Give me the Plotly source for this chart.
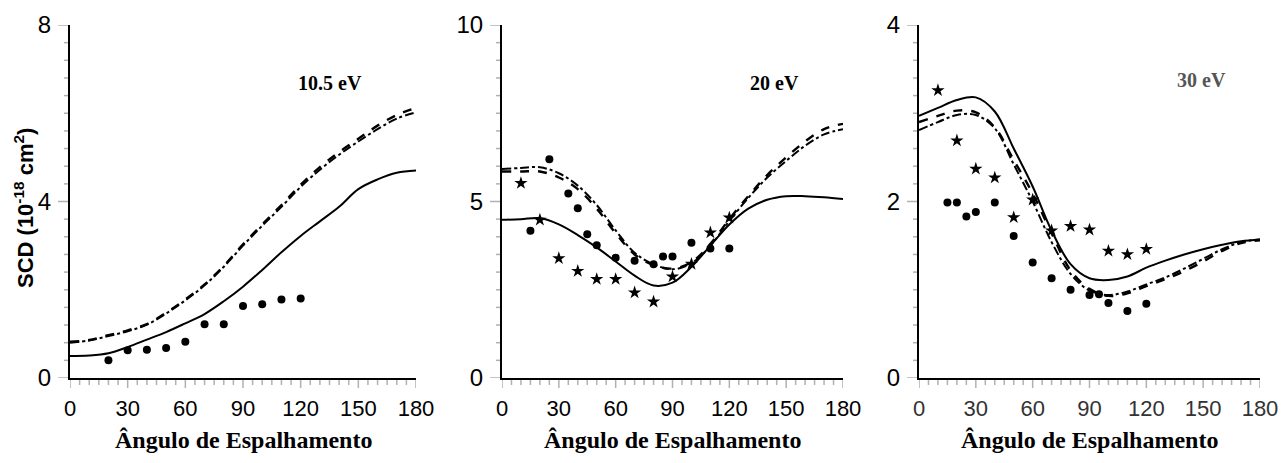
import plotly.graph_objects as go

# ---------------- data ----------------
angles_curve = [0, 10, 20, 30, 40, 50, 60, 70, 80, 90, 100, 110, 120, 130, 140, 150, 160, 170, 180]

# 10.5 eV
p1_solid = [0.50, 0.51, 0.56, 0.70, 0.87, 1.04, 1.24, 1.45, 1.74, 2.07, 2.45, 2.85, 3.22, 3.55, 3.88, 4.28, 4.50, 4.65, 4.70]
p1_dash = [0.82, 0.86, 0.97, 1.08, 1.22, 1.48, 1.78, 2.12, 2.54, 3.03, 3.48, 3.92, 4.38, 4.78, 5.12, 5.42, 5.72, 5.96, 6.12]
p1_dashdot = [0.80, 0.85, 0.95, 1.06, 1.21, 1.46, 1.76, 2.10, 2.52, 3.00, 3.45, 3.88, 4.33, 4.72, 5.06, 5.36, 5.64, 5.88, 6.02]
p1_circ_x = [20, 30, 40, 50, 60, 70, 80, 90, 100, 110, 120]
p1_circ_y = [0.40, 0.63, 0.64, 0.68, 0.82, 1.22, 1.22, 1.63, 1.67, 1.78, 1.80]

# 20 eV
p2_solid = [4.48, 4.50, 4.53, 4.35, 4.05, 3.70, 3.30, 2.90, 2.62, 2.70, 3.15, 3.75, 4.35, 4.80, 5.05, 5.15, 5.15, 5.12, 5.07]
p2_dash = [5.85, 5.85, 5.85, 5.68, 5.35, 4.80, 4.10, 3.50, 3.20, 3.10, 3.28, 3.80, 4.50, 5.15, 5.75, 6.25, 6.70, 7.05, 7.20]
p2_dashdot = [5.92, 5.95, 5.97, 5.80, 5.45, 4.90, 4.18, 3.55, 3.22, 3.08, 3.25, 3.75, 4.45, 5.10, 5.68, 6.15, 6.58, 6.90, 7.05]
p2_circ_x = [15, 25, 35, 40, 45, 50, 60, 70, 80, 85, 90, 100, 110, 120]
p2_circ_y = [4.17, 6.20, 5.23, 4.81, 4.07, 3.76, 3.41, 3.32, 3.22, 3.44, 3.44, 3.83, 3.67, 3.67]
p2_star_x = [10, 20, 30, 40, 50, 60, 70, 80, 90, 100, 110, 120]
p2_star_y = [5.52, 4.48, 3.39, 3.03, 2.80, 2.80, 2.42, 2.16, 2.87, 3.23, 4.12, 4.54]

# 30 eV
p3_solid = [2.97, 3.06, 3.15, 3.18, 3.02, 2.60, 2.17, 1.67, 1.29, 1.13, 1.11, 1.15, 1.25, 1.33, 1.40, 1.46, 1.51, 1.55, 1.57]
p3_dash = [2.90, 2.97, 3.03, 3.01, 2.84, 2.47, 2.09, 1.64, 1.22, 1.01, 0.93, 0.96, 1.04, 1.12, 1.21, 1.32, 1.44, 1.53, 1.56]
p3_dashdot = [2.81, 2.90, 2.98, 2.98, 2.83, 2.42, 2.00, 1.54, 1.18, 0.99, 0.94, 0.98, 1.06, 1.14, 1.24, 1.35, 1.46, 1.54, 1.57]
p3_circ_x = [15, 20, 25, 30, 40, 50, 60, 70, 80, 90, 95, 100, 110, 120]
p3_circ_y = [1.99, 1.99, 1.83, 1.88, 1.99, 1.61, 1.31, 1.13, 1.00, 0.94, 0.95, 0.85, 0.76, 0.84]
p3_star_x = [10, 20, 30, 40, 50, 60, 70, 80, 90, 100, 110, 120]
p3_star_y = [3.26, 2.69, 2.37, 2.27, 1.82, 2.02, 1.67, 1.72, 1.68, 1.44, 1.40, 1.46]

energy_labels = ["10.5 eV", "20 eV", "30 eV"]
y_ranges = [8, 10, 4]
y_major = [4, 5, 2]
x_title = "Ângulo de Espalhamento"
y_title = "SCD (10<sup>-18</sup> cm<sup>2</sup>)"

# ---------------- figure ----------------
W, H = 1286, 463
OFF = 8  # page body margin
fig = go.Figure()

x_px = [(70, 416), (502, 843), (919, 1260)]
x_domains = [((a - OFF) / W, (b - OFF) / W) for a, b in x_px]
y_domain = (1 - (378 - OFF) / H, 1 - (25 - OFF) / H)

panels = [
    (p1_solid, p1_dash, p1_dashdot, p1_circ_x, p1_circ_y, [], []),
    (p2_solid, p2_dash, p2_dashdot, p2_circ_x, p2_circ_y, p2_star_x, p2_star_y),
    (p3_solid, p3_dash, p3_dashdot, p3_circ_x, p3_circ_y, p3_star_x, p3_star_y),
]

for i, (sol, das, dd, cx, cy, sx, sy) in enumerate(panels):
    xa = "x" if i == 0 else f"x{i+1}"
    ya = "y" if i == 0 else f"y{i+1}"
    fig.add_trace(go.Scatter(x=angles_curve, y=sol, mode="lines", xaxis=xa, yaxis=ya,
                             line=dict(color="black", width=2, shape="spline"), showlegend=False))
    fig.add_trace(go.Scatter(x=angles_curve, y=das, mode="lines", xaxis=xa, yaxis=ya,
                             line=dict(color="black", width=2.4, dash="dash", shape="spline"), showlegend=False))
    fig.add_trace(go.Scatter(x=angles_curve, y=dd, mode="lines", xaxis=xa, yaxis=ya,
                             line=dict(color="black", width=2, dash="dashdot", shape="spline"), showlegend=False))
    fig.add_trace(go.Scatter(x=cx, y=cy, mode="markers", xaxis=xa, yaxis=ya,
                             marker=dict(symbol="circle", size=8, color="black"), showlegend=False))
    if sx:
        fig.add_trace(go.Scatter(x=sx, y=sy, mode="markers", xaxis=xa, yaxis=ya,
                                 marker=dict(symbol="star", size=10, color="black"), showlegend=False))

layout = dict(
    template="simple_white",
    width=W, height=H,
    margin=dict(l=0, r=0, t=0, b=0, autoexpand=False),
    showlegend=False,
)

INVISIBLE = "rgba(0,0,0,0)"
for i in range(3):
    xkey = "xaxis" if i == 0 else f"xaxis{i+1}"
    ykey = "yaxis" if i == 0 else f"yaxis{i+1}"
    ya = "y" if i == 0 else f"y{i+1}"
    xa = "x" if i == 0 else f"x{i+1}"
    layout[xkey] = dict(
        domain=list(x_domains[i]), anchor=ya, range=[0, 180], automargin=False,
        showline=True, linecolor="black", linewidth=2,
        showgrid=False, zeroline=False,
        tickmode="linear", dtick=30, tick0=0,
        ticks="outside", ticklen=10, tickcolor=INVISIBLE,
        tickfont=dict(family="Liberation Sans, Arial, sans-serif", size=22,
                      color="black" if i < 2 else "#333"),
    )
    layout[ykey] = dict(
        domain=list(y_domain), anchor=xa, range=[0, y_ranges[i]], automargin=False,
        showline=True, linecolor="black", linewidth=2,
        showgrid=False, zeroline=False,
        tickmode="linear", dtick=y_major[i], tick0=0,
        ticks="outside", ticklen=12, tickcolor=INVISIBLE,
        tickfont=dict(family="Liberation Sans, Arial, sans-serif", size=24, color="black"),
    )

# tick marks drawn as pixel-sized shapes anchored on the axes' own scales
shapes = []
for i in range(3):
    xa = "x" if i == 0 else f"x{i+1}"
    ya = "y" if i == 0 else f"y{i+1}"
    for deg in range(0, 181, 5):
        length = 10 if deg % 30 == 0 else 7
        shapes.append(dict(type="line", xref=xa, yref=f"{ya} domain",
                           x0=deg, x1=deg, ysizemode="pixel", yanchor=0, y0=0, y1=-length,
                           line=dict(color="black", width=1.5), layer="above"))
    step = y_ranges[i] / 20
    for k in range(21):
        length = 12 if k % 10 == 0 else 6
        shapes.append(dict(type="line", xref=f"{xa} domain", yref=ya,
                           xsizemode="pixel", xanchor=0, x0=0, x1=-length,
                           y0=k * step, y1=k * step,
                           line=dict(color="black", width=1.5), layer="above"))
layout["shapes"] = shapes

fig.update_layout(**layout)

# energy labels
label_pos = [(135, 6.69), (144, 8.36), (149, 3.38)]
label_colors = ["black", "black", "#555"]
for i, (lx, ly) in enumerate(label_pos):
    xa = "x" if i == 0 else f"x{i+1}"
    ya = "y" if i == 0 else f"y{i+1}"
    fig.add_annotation(x=lx, y=ly, xref=xa, yref=ya, text=f"<b>{energy_labels[i]}</b>",
                       showarrow=False, xanchor="center", yanchor="middle",
                       font=dict(family="Liberation Serif, Times New Roman, serif", size=20, color=label_colors[i]))

# x-axis titles
for i in range(3):
    cx = (x_domains[i][0] + x_domains[i][1]) / 2
    fig.add_annotation(x=cx, y=1 - (440 - OFF) / H, xref="paper", yref="paper", text=f"<b>{x_title}</b>",
                       showarrow=False, xanchor="center", yanchor="middle",
                       font=dict(family="Liberation Serif, Times New Roman, serif", size=24, color="black"))

# y-axis title
fig.add_annotation(x=(24 - OFF) / W, y=1 - (208 - OFF) / H, xref="paper", yref="paper", text=f"<b>{y_title}</b>",
                   showarrow=False, textangle=-90, xanchor="center", yanchor="middle",
                   font=dict(family="Liberation Sans, Arial, sans-serif", size=22, color="black"))

fig.write_html("out.html")
